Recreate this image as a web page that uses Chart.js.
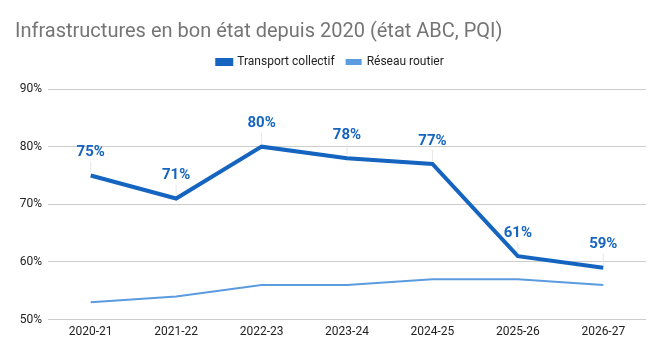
<!DOCTYPE html>
<html>
<head>
<meta charset="utf-8">
<script src="https://cdn.jsdelivr.net/npm/chart.js@4/dist/chart.umd.min.js"></script>
<style>
  html, body { margin: 0; padding: 0; background: #fff; }
  #wrap { width: 666px; height: 358px; position: relative; }
</style>
</head>
<body>
<div id="wrap"><canvas id="chart"></canvas></div>
<script>
const years = ["2020-21", "2021-22", "2022-23", "2023-24", "2024-25", "2025-26", "2026-27"];
const transportCollectif = [75, 71, 80, 78, 77, 61, 59];
const reseauRoutier = [53, 54, 56, 56, 57, 57, 56];
const yTicks = [50, 60, 70, 80, 90];

// étiquettes de valeur au-dessus de la série principale
const valueLabels = {
  id: "valueLabels",
  afterDatasetsDraw(chart) {
    const ctx = chart.ctx;
    const meta = chart.getDatasetMeta(0);
    ctx.save();
    ctx.font = "bold 15px Roboto";
    ctx.textAlign = "center";
    ctx.textBaseline = "middle";
    meta.data.forEach((pt, i) => {
      const ly = pt.y - 23;
      ctx.strokeStyle = "#e6e6e6";
      ctx.lineWidth = 1;
      ctx.beginPath();
      ctx.moveTo(pt.x, ly + 9);
      ctx.lineTo(pt.x, pt.y - 3);
      ctx.stroke();
      ctx.fillStyle = "#1565c0";
      ctx.fillText(transportCollectif[i] + "%", pt.x, ly);
    });
    ctx.restore();
  }
};

// un peu d'espace sous la légende
const legendMargin = {
  id: "legendMargin",
  beforeInit(chart) {
    const fit = chart.legend.fit;
    chart.legend.fit = function () {
      fit.bind(chart.legend)();
      this.height += 11;
    };
  }
};

new Chart(document.getElementById("chart"), {
  type: "line",
  data: {
    labels: years,
    datasets: [
      {
        label: "Transport collectif",
        data: transportCollectif,
        borderColor: "#1565c0",
        backgroundColor: "#1565c0",
        borderWidth: 4,
        pointRadius: 0,
        tension: 0,
      },
      {
        label: "Réseau routier",
        data: reseauRoutier,
        borderColor: "#5b9bdf",
        backgroundColor: "#5b9bdf",
        borderWidth: 2,
        pointRadius: 0,
        tension: 0,
      },
    ],
  },
  options: {
    responsive: true,
    maintainAspectRatio: false,
    animation: false,
    layout: { padding: { left: 15, right: 20, top: 16, bottom: 14 } },
    plugins: {
      title: {
        display: true,
        text: "Infrastructures en bon état depuis 2020 (état ABC, PQI)",
        align: "start",
        color: "#757575",
        font: { family: "Roboto", size: 20, weight: "normal" },
        padding: { top: 4, bottom: 0 },
      },
      legend: {
        position: "top",
        labels: {
          color: "#222",
          font: { family: "Roboto", size: 12 },
          boxWidth: 14,
          boxHeight: 4,
          padding: 12,
        },
      },
      tooltip: { enabled: false },
    },
    scales: {
      x: {
        offset: true,
        grid: { display: false, drawTicks: false },
        border: { display: false },
        ticks: { color: "#222", font: { family: "Roboto", size: 12 }, padding: 5 },
      },
      y: {
        min: 50,
        max: 90,
        afterBuildTicks: (axis) => { axis.ticks = yTicks.map((v) => ({ value: v })); },
        afterFit: (axis) => { axis.width = 33; },
        grid: { color: "#cccccc", drawTicks: false },
        border: { display: false },
        ticks: {
          color: "#222",
          font: { family: "Roboto", size: 12 },
          padding: 6,
          callback: (v) => v + "%",
        },
      },
    },
  },
  plugins: [valueLabels, legendMargin],
});
</script>
</body>
</html>
